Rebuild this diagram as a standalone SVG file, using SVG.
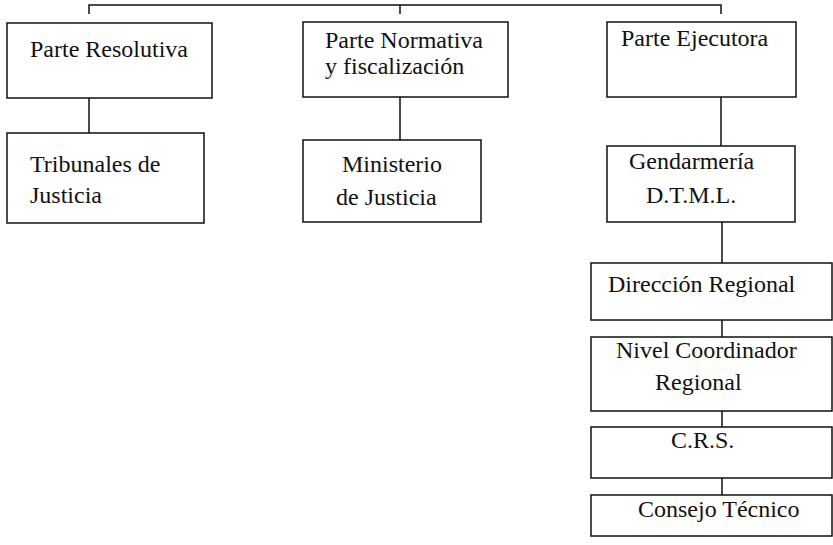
<svg xmlns="http://www.w3.org/2000/svg" width="833" height="545" viewBox="0 0 833 545">
<style>
.box{fill:#fff;stroke:#111;stroke-width:1.5}
.t{font-family:'Liberation Serif','DejaVu Serif',serif;font-size:24px;fill:#111}
.c{stroke:#111;stroke-width:1.5;fill:none}
</style>
<rect width="833" height="545" fill="#fff"/>
<g id="connectors">
<path class="c" d="M89,14 V5 H721 V14 M400,5 V14"/>
<path class="c" d="M89,98 V133" stroke="#555" stroke-width="1"/>
<path class="c" d="M400,97 V140"/>
<path class="c" d="M721,97 V146" stroke-width="2"/>
<path class="c" d="M722,222 V263" stroke-width="2"/>
<path class="c" d="M722,320 V337"/>
<path class="c" d="M722,411 V427" stroke-width="1"/>
<path class="c" d="M722,478 V495"/>
</g>
<g id="parte-resolutiva"><rect class="box" x="7" y="23" width="205" height="75"/><text class="t" font-family="Liberation Serif" x="30" y="57">Parte Resolutiva</text></g>
<g id="tribunales"><rect class="box" x="7" y="133" width="197" height="90"/><text class="t" font-family="Liberation Serif" x="30" y="172">Tribunales de</text><text class="t" font-family="Liberation Serif" x="30" y="203">Justicia</text></g>
<g id="parte-normativa"><rect class="box" x="303" y="22" width="205" height="75"/><text class="t" font-family="Liberation Serif" x="325" y="48">Parte Normativa</text><text class="t" font-family="Liberation Serif" x="325" y="74">y fiscalización</text></g>
<g id="ministerio"><rect class="box" x="303" y="140" width="178" height="82"/><text class="t" font-family="Liberation Serif" x="342" y="172">Ministerio</text><text class="t" font-family="Liberation Serif" x="336" y="205">de Justicia</text></g>
<g id="parte-ejecutora"><rect class="box" x="607" y="22" width="189" height="75"/><text class="t" font-family="Liberation Serif" x="621" y="46">Parte Ejecutora</text></g>
<g id="gendarmeria"><rect class="box" x="607" y="146" width="188" height="76"/><text class="t" font-family="Liberation Serif" x="629" y="169">Gendarmería</text><text class="t" font-family="Liberation Serif" x="646" y="203">D.T.M.L.</text></g>
<g id="direccion-regional"><rect class="box" x="591" y="263" width="241" height="57"/><text class="t" font-family="Liberation Serif" x="608" y="292">Dirección Regional</text></g>
<g id="nivel-coordinador"><rect class="box" x="591" y="337" width="241" height="74"/><text class="t" font-family="Liberation Serif" x="616" y="358">Nivel Coordinador</text><text class="t" font-family="Liberation Serif" x="655" y="390">Regional</text></g>
<g id="crs"><rect class="box" x="591" y="427" width="241" height="51"/><text class="t" font-family="Liberation Serif" x="671" y="448">C.R.S.</text></g>
<g id="consejo-tecnico"><rect class="box" x="591" y="495" width="241" height="41"/><text class="t" font-family="Liberation Serif" x="638" y="517">Consejo Técnico</text></g>
</svg>
